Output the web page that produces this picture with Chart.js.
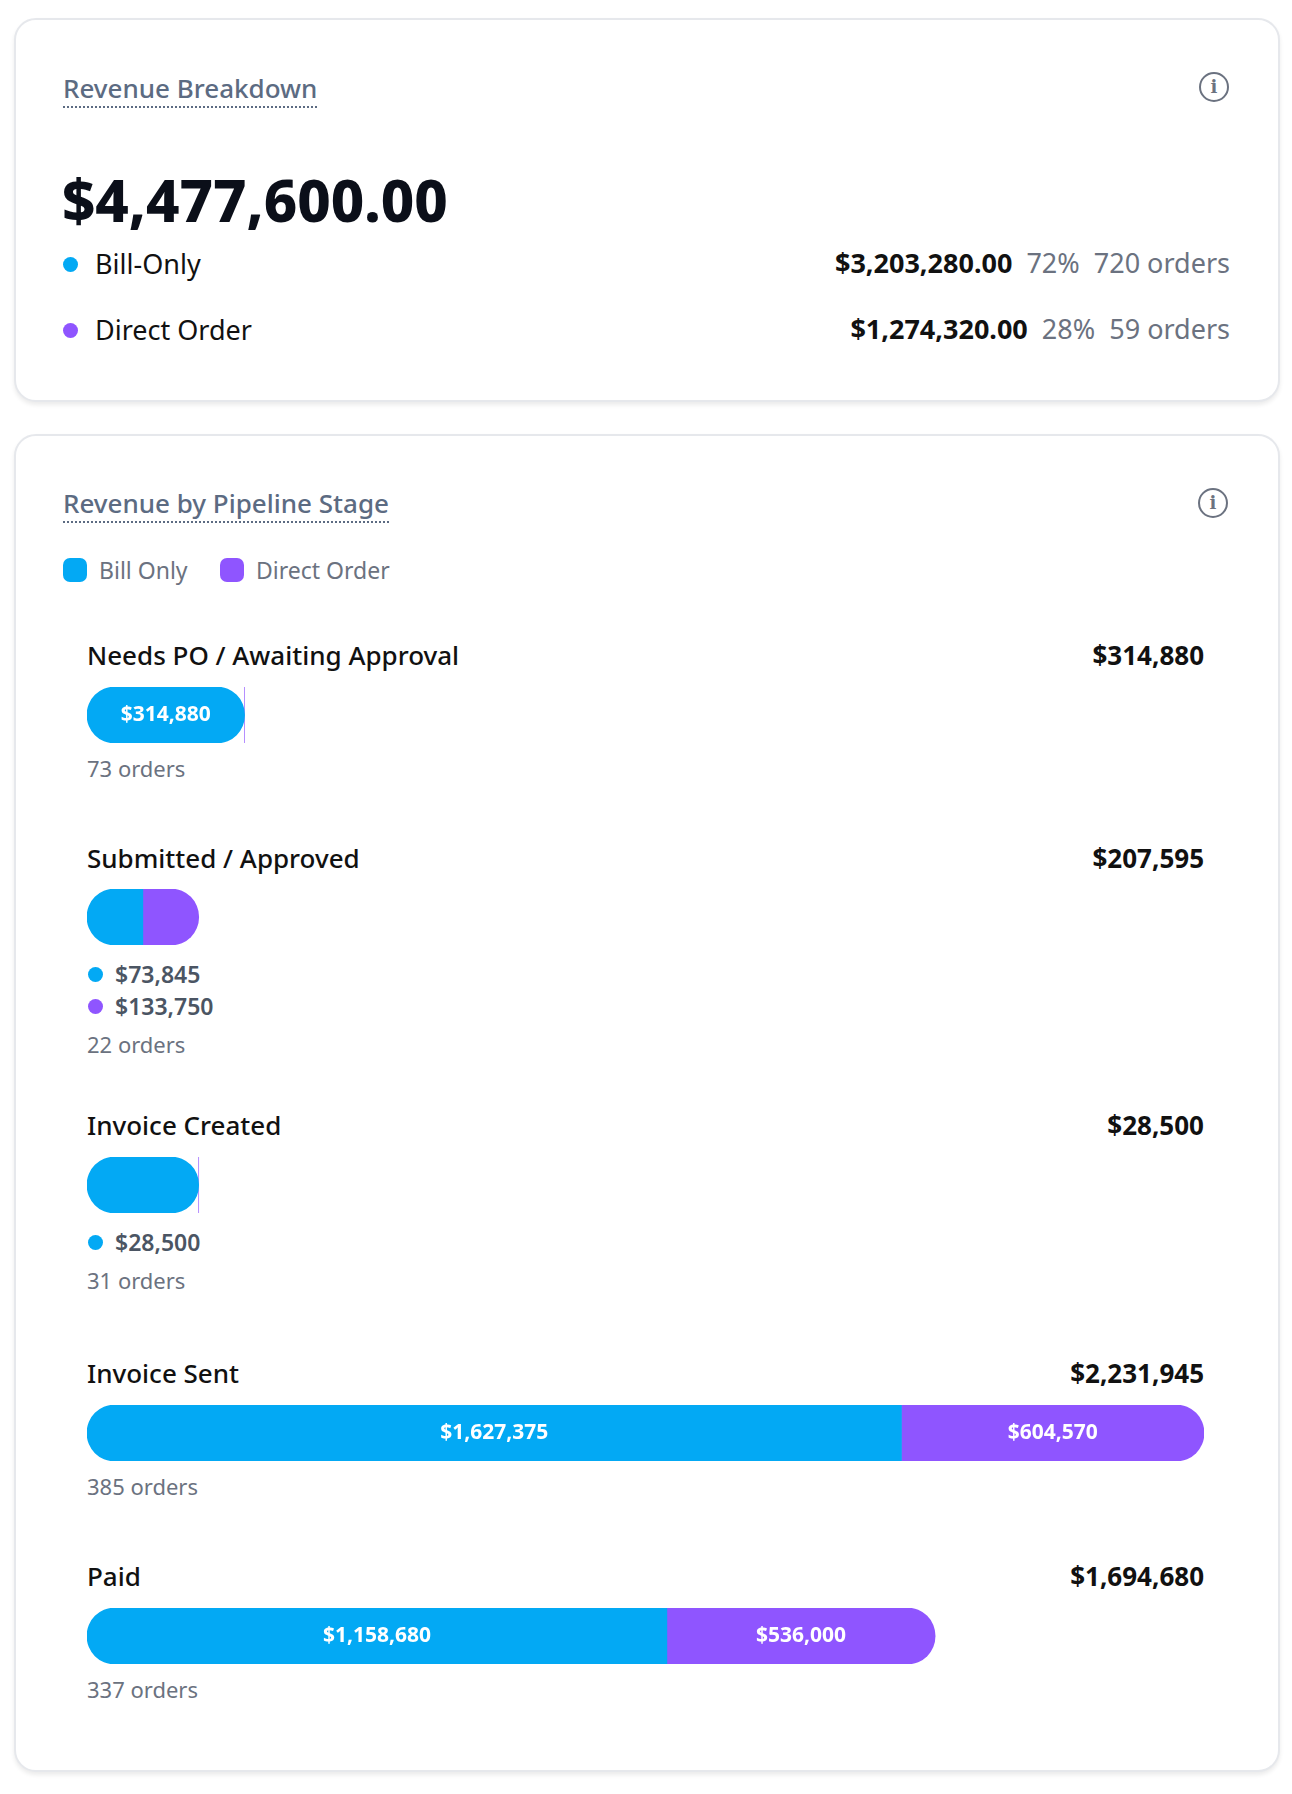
<!DOCTYPE html>
<html><head><meta charset="utf-8">
<script src="https://cdn.jsdelivr.net/npm/chart.js@4.4.0/dist/chart.umd.min.js"></script>
<style>
body{margin:0;width:1292px;height:1794px;background:#fff;font-family:"Noto Sans",sans-serif;position:relative;overflow:hidden}
.card{position:absolute;left:14px;width:1262px;border:2px solid #e6e8ec;border-radius:22px;box-shadow:0 3px 4px rgba(0,0,0,0.08);background:#fff}
.t{position:absolute;height:40px;line-height:40px;white-space:nowrap}
.title{color:#5c6b82;font-size:26px;font-weight:500;border-bottom:2px dotted #5c6b82;height:36px;line-height:36px}
.info{position:absolute;width:26px;height:26px;border:2px solid #6b7280;border-radius:50%;color:#6b7280;font-size:18px;font-weight:600;text-align:center;line-height:26px;font-family:"DejaVu Serif",serif}
.dot{position:absolute;width:15px;height:15px;border-radius:50%}
.sq{position:absolute;width:24px;height:24px;border-radius:7px}
.g{color:#6b7280}
.cw{position:absolute;left:87px;width:1117px;height:56px}
</style></head><body>
<div class="card" style="top:18px;height:380px"></div>
<div class="card" style="top:434px;height:1334px"></div>
<div class="t title" style="left:63px;top:70px">Revenue Breakdown</div>
<div class="info" style="left:1199px;top:72px">i</div>
<div class="t" style="left:62px;top:160px;height:80px;line-height:80px;font-size:58px;font-weight:800;color:#0b0f19">$4,477,600.00</div>
<div class="dot" style="left:63px;top:257px;background:#03a9f4"></div>
<div class="t" style="left:95px;top:244px;font-size:27px;color:#111">Bill-Only</div>
<div class="t" style="right:62px;top:243px;font-size:27px"><b style="color:#111">$3,203,280.00</b>&nbsp; <span class="g">72%&nbsp;&nbsp;720 orders</span></div>
<div class="dot" style="left:63px;top:323px;background:#8f55ff"></div>
<div class="t" style="left:95px;top:310px;font-size:27px;color:#111">Direct Order</div>
<div class="t" style="right:62px;top:309px;font-size:27px"><b style="color:#111">$1,274,320.00</b>&nbsp; <span class="g">28%&nbsp;&nbsp;59 orders</span></div>

<div class="t title" style="left:63px;top:485px">Revenue by Pipeline Stage</div>
<div class="info" style="left:1198px;top:488px">i</div>
<div class="sq" style="left:63px;top:558px;background:#03a9f4"></div>
<div class="t g" style="left:99px;top:550px;font-size:23px">Bill Only</div>
<div class="sq" style="left:220px;top:558px;background:#8f55ff"></div>
<div class="t g" style="left:256px;top:550px;font-size:23px">Direct Order</div>
<div id="stages"></div>
<script>
const stages=["Needs PO / Awaiting Approval","Submitted / Approved","Invoice Created","Invoice Sent","Paid"];
const billOnly=[314880,73845,28500,1627375,1158680];
const directOrder=[0,133750,0,604570,536000];
const orders=[73,22,31,385,337];
const titleY=[655,858,1125,1373,1576];
const barTop=[687,889,1157,1405,1608];
const BLUE="#03a9f4",PURPLE="#8f55ff";
const fmt=v=>"$"+v.toLocaleString("en-US");
const maxTotal=Math.max(...stages.map((s,i)=>billOnly[i]+directOrder[i]));
const minFrac=0.1;
const host=document.getElementById("stages");
function add(html){host.insertAdjacentHTML("beforeend",html);}
const labelPlugin={id:"lbl",afterDatasetsDraw(c){const ctx=c.ctx;c.data.datasets.forEach((ds,di)=>{const el=c.getDatasetMeta(di).data[0];if(!el)return;const w=Math.abs(el.x-el.base);const txt=ds.realLabel;if(!txt)return;ctx.save();ctx.font="bold 21px 'Noto Sans'";const tw=ctx.measureText(txt).width;if(tw+24<w){ctx.fillStyle="#fff";ctx.textAlign="center";ctx.textBaseline="middle";ctx.fillText(txt,(el.x+el.base)/2,el.y);}ctx.restore();});}};
stages.forEach((s,i)=>{
 const total=billOnly[i]+directOrder[i];
 const k=total<maxTotal*minFrac?maxTotal*minFrac/total:1;
 let b=billOnly[i]*k,d=directOrder[i]*k;
 if(k>1&&d>0){b=d=maxTotal*minFrac/2;}
 add(`<div class="t" style="left:87px;top:${titleY[i]-20}px;font-size:26px;font-weight:500;color:#111">${s}</div>`);
 add(`<div class="t" style="right:88px;top:${titleY[i]-20}px;font-size:26px;font-weight:700;color:#111">${fmt(total)}</div>`);
 add(`<div class="cw" style="top:${barTop[i]}px"><canvas id="c${i}"></canvas></div>`);
 const showInside=(k===1);
 let y=barTop[i]+56;
 if(!showInside){
  const segs=[[billOnly[i],BLUE],[directOrder[i],PURPLE]].filter(x=>x[0]>0);
  segs.forEach(([v,col],j)=>{const cy=y+29+j*32;add(`<div class="dot" style="left:88px;top:${cy-7}px;background:${col}"></div>`);add(`<div class="t" style="left:115px;top:${cy-20}px;font-size:23px;font-weight:600;color:#4b5563">${fmt(v)}</div>`);});
  y+=segs.length*32+10;
 }
 add(`<div class="t g" style="left:87px;top:${y+5}px;font-size:22px">${orders[i]} orders</div>`);
 const R=28;
 const radius=(first,last)=>({topLeft:first?R:0,bottomLeft:first?R:0,topRight:last?R:0,bottomRight:last?R:0});
 const hasD=d>0;
 new Chart(document.getElementById("c"+i),{type:"bar",
  data:{labels:[s],datasets:[
   {data:[b],backgroundColor:BLUE,borderRadius:radius(true,!hasD),borderSkipped:false,realLabel:showInside?fmt(billOnly[i]):""},
   {data:[d],backgroundColor:PURPLE,borderRadius:radius(!b,true),borderSkipped:false,realLabel:showInside&&hasD?fmt(directOrder[i]):""}]},
  options:{indexAxis:"y",responsive:true,maintainAspectRatio:false,animation:false,
   layout:{padding:0},
   datasets:{bar:{barPercentage:1,categoryPercentage:1}},
   plugins:{legend:{display:false},tooltip:{enabled:false}},
   scales:{x:{stacked:true,min:0,max:maxTotal,display:false},y:{stacked:true,display:false}}},
  plugins:[labelPlugin]});
});
</script>
</body></html>
